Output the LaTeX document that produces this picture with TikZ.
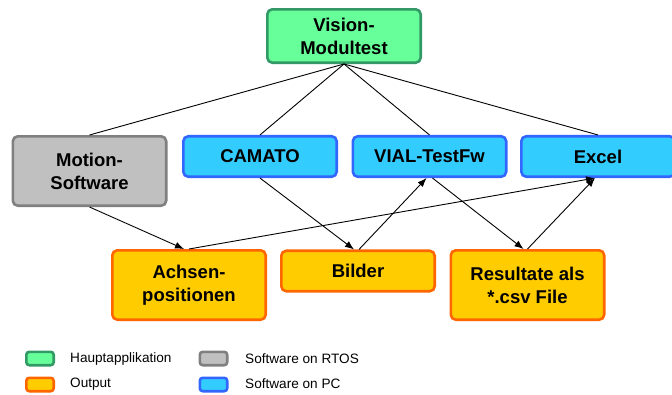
\documentclass[tikz,border=0pt]{standalone}
\usepackage{fontspec}
\setmainfont{Liberation Sans}
\usepackage{tikz}
\usetikzlibrary{arrows.meta}
\definecolor{mainfill}{HTML}{66FF99}
\definecolor{mainline}{HTML}{339966}
\definecolor{outfill}{HTML}{FFCC00}
\definecolor{outline}{HTML}{FF6600}
\definecolor{rtosfill}{HTML}{C0C0C0}
\definecolor{rtosline}{HTML}{808080}
\definecolor{pcfill}{HTML}{33CCFF}
\definecolor{pcline}{HTML}{3366FF}

\begin{document}
\begin{tikzpicture}[x=1pt,y=-1pt,
    box/.style={rounded corners=5pt,line width=2.6pt,minimum width=153.4pt,
      minimum height=40.5pt,inner sep=0pt,align=center,
      font=\fontsize{18.5}{23}\selectfont\bfseries},
    tallbox/.style={box,minimum height=69.4pt},
    swatch/.style={rounded corners=3pt,line width=2.6pt,minimum width=27.4pt,
      minimum height=13.4pt,inner sep=0pt},
    legtext/.style={anchor=west,inner sep=0pt,font=\fontsize{13.6}{16}\selectfont},
    mainapp/.style={draw=mainline,fill=mainfill},
    output/.style={draw=outline,fill=outfill},
    rtos/.style={draw=rtosline,fill=rtosfill},
    pcsw/.style={draw=pcline,fill=pcfill},
    link/.style={black,line width=0.9pt},
    >={Latex[length=9pt,width=7pt]}]
  \useasboundingbox (0,0) rectangle (672,394);
  % top level
  \node[tallbox,mainapp,minimum height=53.4pt] (vision) at (344,36) {Vision-\\Modultest};
  % software
  \node[tallbox,rtos] (motion) at (89.5,171) {Motion-\\Software};
  \node[box,pcsw] (camato) at (260,156.5) {CAMATO};
  \node[box,pcsw] (vial) at (429.5,156.5) {VIAL-TestFw};
  \node[box,pcsw] (excel) at (598,156.5) {Excel};
  % outputs
  \node[tallbox,output] (achsen) at (189,285) {Achsen-\\positionen};
  \node[box,output] (bilder) at (358,271) {Bilder};
  \node[tallbox,output] (resultate) at (527.5,285) {Resultate als\\*.csv File};
  % Vision -> software
  \draw[link] (vision.south) -- (motion.north);
  \draw[link] (vision.south) -- (camato.north);
  \draw[link] (vision.south) -- (vial.north);
  \draw[link] (vision.south) -- (excel.north);
  % data flow
  \draw[link,->] (motion.south) -- ([xshift=-5pt]achsen.north);
  \draw[link,->] (camato.south) -- ([xshift=-4pt]bilder.north);
  \draw[link,->] ([xshift=1pt]bilder.north) -- ([xshift=-3pt]vial.south);
  \draw[link,->] ([xshift=3pt]vial.south) -- ([xshift=-4pt]resultate.north);
  \draw[link,->] (resultate.north) -- ([xshift=-3pt]excel.south);
  \draw[link,->] (achsen.north) -- ([xshift=-3pt]excel.south);
  % legend
  \node[swatch,mainapp] (lmain) at (40,358.5) {};
  \node[swatch,output] (lout) at (40,384.5) {};
  \node[swatch,rtos] (lrtos) at (213.5,358.5) {};
  \node[swatch,pcsw] (lpc) at (213.5,384.5) {};
  \node[legtext] at (70,358.5) {Hauptapplikation};
  \node[legtext] at (70,384) {Output};
  \node[legtext] at (245,358.5) {Software on RTOS};
  \node[legtext] at (245,384) {Software on PC};
\end{tikzpicture}
\end{document}
